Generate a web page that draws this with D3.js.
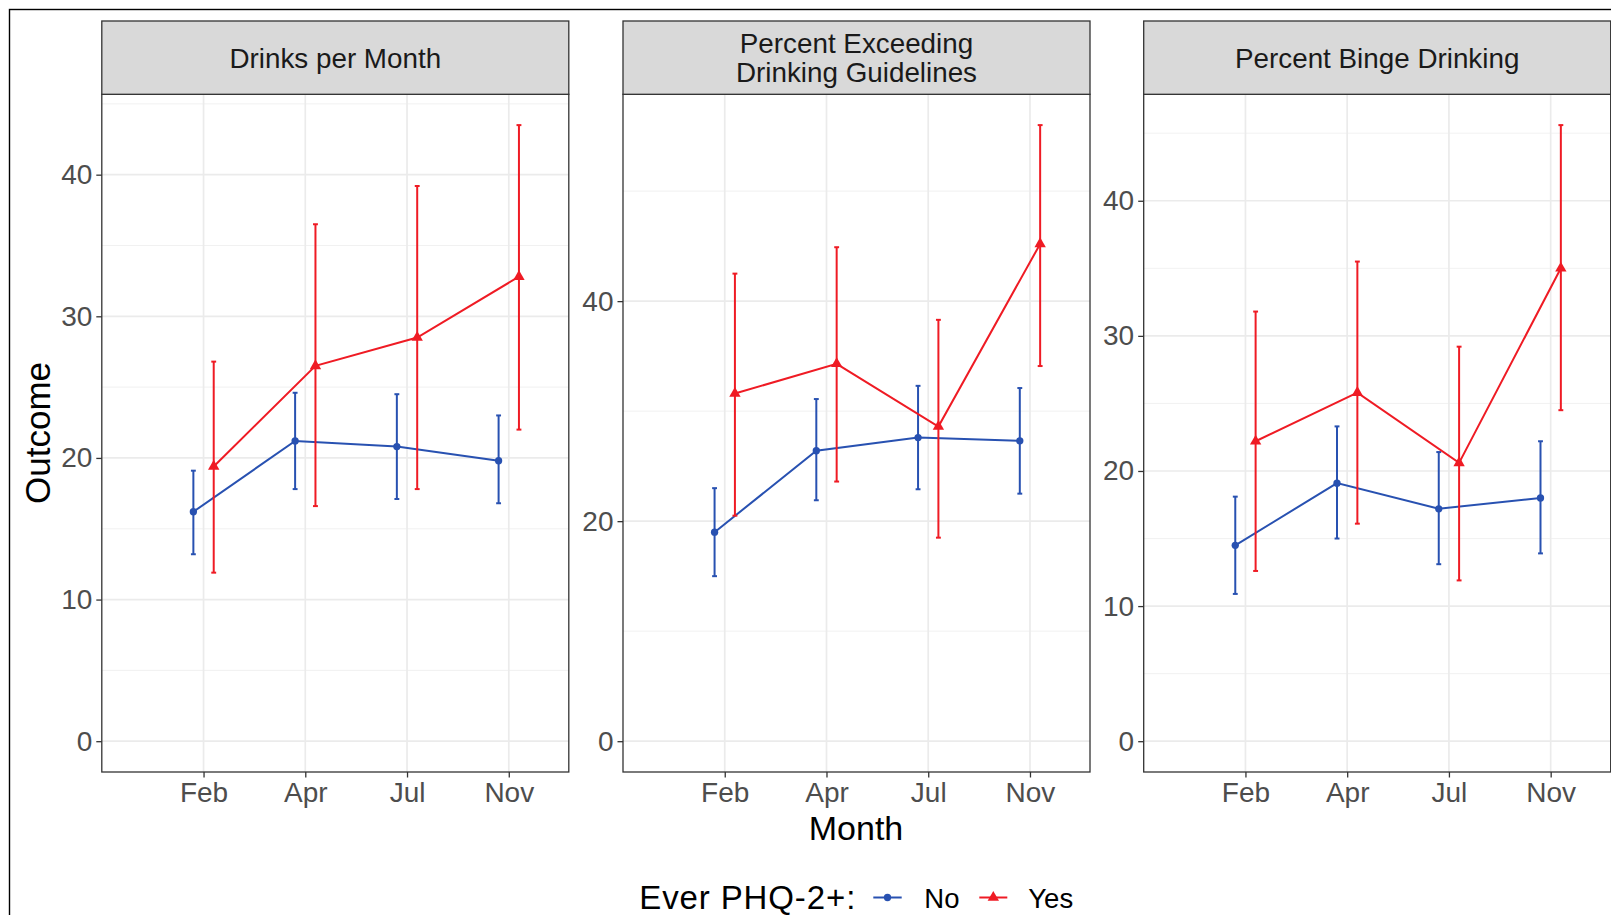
<!DOCTYPE html>
<html>
<head>
<meta charset="utf-8">
<script src="https://cdn.jsdelivr.net/npm/d3@7"></script>
<style>
  html, body { margin: 0; padding: 0; background: #fff; overflow: hidden; }
  svg { display: block; }
  text { font-family: "Liberation Sans", Arial, sans-serif; }
</style>
</head>
<body>
<svg id="chart" width="1611" height="915"></svg>
<script>
// ---------------- data ----------------
const months = ["Feb", "Apr", "Jul", "Nov"];
const groups = ["No", "Yes"];
const panelTitles = [["Drinks per Month"], ["Percent Exceeding", "Drinking Guidelines"], ["Percent Binge Drinking"]];

// Panel 1: Drinks per Month
const drinksNo     = [16.2, 21.2, 20.8, 19.8];
const drinksNoLow  = [13.2, 17.8, 17.1, 16.8];
const drinksNoHigh = [19.1, 24.6, 24.5, 23.0];
const drinksYes     = [19.4, 26.5, 28.5, 32.8];
const drinksYesLow  = [11.9, 16.6, 17.8, 22.0];
const drinksYesHigh = [26.8, 36.5, 39.2, 43.5];

// Panel 2: Percent Exceeding Drinking Guidelines
const exceedNo     = [19.0, 26.4, 27.6, 27.3];
const exceedNoLow  = [15.0, 21.9, 22.9, 22.5];
const exceedNoHigh = [23.0, 31.1, 32.3, 32.1];
const exceedYes     = [31.6, 34.3, 28.6, 45.2];
const exceedYesLow  = [20.5, 23.6, 18.5, 34.1];
const exceedYesHigh = [42.5, 44.9, 38.3, 56.0];

// Panel 3: Percent Binge Drinking
const bingeNo     = [14.5, 19.1, 17.2, 18.0];
const bingeNoLow  = [10.9, 15.0, 13.1, 13.9];
const bingeNoHigh = [18.1, 23.3, 21.4, 22.2];
const bingeYes     = [22.2, 25.8, 20.6, 35.0];
const bingeYesLow  = [12.6, 16.1, 11.9, 24.5];
const bingeYesHigh = [31.8, 35.5, 29.2, 45.6];

// tick labels
const yTicks = [[0, 10, 20, 30, 40], [0, 20, 40], [0, 10, 20, 30, 40]];
const yMinorTicks = [[5, 15, 25, 35, 45], [10, 30, 50], [5, 15, 25, 35, 45]];

const legendTitle = "Ever PHQ-2+:";
const xTitle = "Month";
const yTitle = "Outcome";

// ---------------- build ----------------
const panelData = [
  { no: [drinksNo, drinksNoLow, drinksNoHigh], yes: [drinksYes, drinksYesLow, drinksYesHigh] },
  { no: [exceedNo, exceedNoLow, exceedNoHigh], yes: [exceedYes, exceedYesLow, exceedYesHigh] },
  { no: [bingeNo, bingeNoLow, bingeNoHigh], yes: [bingeYes, bingeYesLow, bingeYesHigh] }
];

const colors = { No: "#2851B1", Yes: "#EF1B24" };
const dodge = { No: -0.1, Yes: 0.1 };

const svg = d3.select("#chart");

// outer border (right/bottom edges fall outside the picture)
svg.append("rect")
  .attr("x", 9.5).attr("y", 9.5)
  .attr("width", 1700).attr("height", 1000)
  .attr("fill", "none").attr("stroke", "#000").attr("stroke-width", 1.4);

const panelLefts = [101.8, 623.0, 1143.7];
const panelW = 467.0;
const stripTop = 21, plotTop = 94.3, plotBottom = 772;

panelData.forEach((pd, i) => {
  const x0 = panelLefts[i];
  const g = svg.append("g").attr("transform", `translate(${x0},0)`);

  const allHigh = d3.max([...pd.no[2], ...pd.yes[2]]);
  const yMin = 0;
  const pad = (allHigh - yMin) * 0.05;
  const y = d3.scaleLinear().domain([yMin - pad, allHigh + pad]).range([plotBottom, plotTop]);
  const x = d3.scaleLinear().domain([0, 4.59]).range([0, panelW]);
  const xPos = m => x(months.indexOf(m) + 1);

  // panel background
  g.append("rect").attr("x", 0).attr("y", plotTop).attr("width", panelW).attr("height", plotBottom - plotTop)
    .attr("fill", "#fff");

  // minor gridlines
  g.selectAll(".ymin").data(yMinorTicks[i]).enter().append("line")
    .attr("x1", 0).attr("x2", panelW)
    .attr("y1", d => y(d)).attr("y2", d => y(d))
    .attr("stroke", "#EFEFEF").attr("stroke-width", 0.9);
  // major gridlines
  g.selectAll(".ymaj").data(yTicks[i]).enter().append("line")
    .attr("x1", 0).attr("x2", panelW)
    .attr("y1", d => y(d)).attr("y2", d => y(d))
    .attr("stroke", "#EBEBEB").attr("stroke-width", 1.7);
  g.selectAll(".xmaj").data(months).enter().append("line")
    .attr("x1", d => xPos(d)).attr("x2", d => xPos(d))
    .attr("y1", plotTop).attr("y2", plotBottom)
    .attr("stroke", "#EBEBEB").attr("stroke-width", 1.7);

  // series
  groups.forEach(grp => {
    const arr = grp === "No" ? pd.no : pd.yes;
    const pts = months.map((m, k) => ({ m, v: arr[0][k], lo: arr[1][k], hi: arr[2][k], xv: k + 1 + dodge[grp] }));
    const col = colors[grp];
    const line = d3.line().x(d => x(d.xv)).y(d => y(d.v));
    g.append("path").datum(pts).attr("d", line)
      .attr("fill", "none").attr("stroke", col).attr("stroke-width", 2);
    // error bars
    const capHalf = 0.024;
    const eb = g.selectAll(null).data(pts).enter().append("g");
    eb.append("line")
      .attr("x1", d => x(d.xv)).attr("x2", d => x(d.xv))
      .attr("y1", d => y(d.lo)).attr("y2", d => y(d.hi))
      .attr("stroke", col).attr("stroke-width", 2);
    eb.append("line")
      .attr("x1", d => x(d.xv - capHalf)).attr("x2", d => x(d.xv + capHalf))
      .attr("y1", d => y(d.lo)).attr("y2", d => y(d.lo))
      .attr("stroke", col).attr("stroke-width", 2);
    eb.append("line")
      .attr("x1", d => x(d.xv - capHalf)).attr("x2", d => x(d.xv + capHalf))
      .attr("y1", d => y(d.hi)).attr("y2", d => y(d.hi))
      .attr("stroke", col).attr("stroke-width", 2);
    // points
    const sym = d3.symbol().type(grp === "No" ? d3.symbolCircle : d3.symbolTriangle).size(grp === "No" ? 42 : 56);
    g.selectAll(null).data(pts).enter().append("path")
      .attr("d", sym)
      .attr("transform", d => `translate(${x(d.xv)},${y(d.v)})`)
      .attr("fill", col);
  });

  // panel border
  g.append("rect").attr("x", 0).attr("y", plotTop).attr("width", panelW).attr("height", plotBottom - plotTop)
    .attr("fill", "none").attr("stroke", "#333333").attr("stroke-width", 1.3);

  // strip
  g.append("rect").attr("x", 0).attr("y", stripTop).attr("width", panelW).attr("height", plotTop - stripTop)
    .attr("fill", "#D9D9D9").attr("stroke", "#333333").attr("stroke-width", 1.3);
  const lines = panelTitles[i];
  const baselines = lines.length === 1 ? [67.5] : [53.0, 82.0];
  lines.forEach((t, k) => {
    g.append("text").attr("x", panelW / 2).attr("y", baselines[k])
      .attr("text-anchor", "middle").attr("font-size", 27.8).attr("fill", "#1A1A1A").text(t);
  });

  // y axis
  const yAxis = d3.axisLeft(y).tickValues(yTicks[i]).tickSize(5.5).tickPadding(4).tickFormat(d3.format("d"));
  const ya = g.append("g").call(yAxis);
  ya.select(".domain").remove();
  ya.selectAll(".tick line").attr("stroke", "#333333").attr("stroke-width", 1.3);
  ya.selectAll(".tick text").attr("font-size", 28).attr("fill", "#4D4D4D")
    .attr("font-family", "'Liberation Sans', Arial, sans-serif");

  // x axis
  const xAxis = d3.axisBottom(x).tickValues([1, 2, 3, 4]).tickSize(5.5).tickPadding(5)
    .tickFormat(d => months[d - 1]);
  const xa = g.append("g").attr("transform", `translate(0,${plotBottom})`).call(xAxis);
  xa.select(".domain").remove();
  xa.selectAll(".tick line").attr("stroke", "#333333").attr("stroke-width", 1.3);
  xa.selectAll(".tick text").attr("font-size", 28).attr("fill", "#4D4D4D")
    .attr("font-family", "'Liberation Sans', Arial, sans-serif");
});

// axis titles
svg.append("text").attr("x", 856).attr("y", 840).attr("text-anchor", "middle")
  .attr("font-size", 34).attr("fill", "#000").text(xTitle);
svg.append("text").attr("transform", "translate(49.5,433) rotate(-90)").attr("text-anchor", "middle")
  .attr("font-size", 35).attr("fill", "#000").text(yTitle);

// legend
const leg = svg.append("g");
leg.append("text").attr("x", 639.3).attr("y", 908.5).attr("font-size", 33).attr("fill", "#000")
  .attr("textLength", 216).attr("lengthAdjust", "spacing").text(legendTitle);
const legKeys = [
  { grp: "No", x1: 873.3, x2: 901.7, tx: 924.3 },
  { grp: "Yes", x1: 979.3, x2: 1007.3, tx: 1028.3 }
];
legKeys.forEach(k => {
  const col = colors[k.grp];
  leg.append("line").attr("x1", k.x1).attr("x2", k.x2).attr("y1", 897.5).attr("y2", 897.5)
    .attr("stroke", col).attr("stroke-width", 2);
  const sym = d3.symbol().type(k.grp === "No" ? d3.symbolCircle : d3.symbolTriangle).size(k.grp === "No" ? 42 : 56);
  leg.append("path").attr("d", sym).attr("transform", `translate(${(k.x1 + k.x2) / 2},897.5)`).attr("fill", col);
  leg.append("text").attr("x", k.tx).attr("y", 907.5).attr("font-size", 27.5).attr("fill", "#000").text(k.grp);
});
</script>
</body>
</html>
